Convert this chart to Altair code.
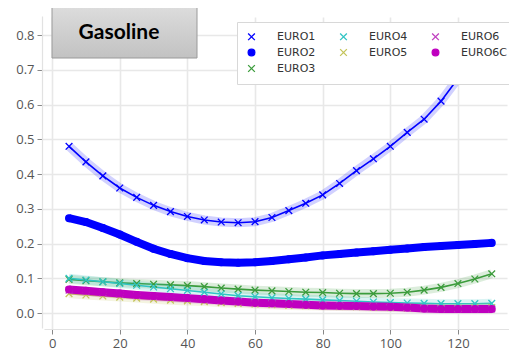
import altair as alt
import pandas as pd

speed = [5, 10, 15, 20, 25, 30, 35, 40, 45, 50, 55, 60, 65, 70, 75, 80, 85, 90, 95, 100, 105, 110, 115, 120, 125, 130]

euro1 = [0.480, 0.435, 0.395, 0.360, 0.333, 0.310, 0.292, 0.278, 0.268, 0.262, 0.260, 0.263, 0.275, 0.295, 0.316,
         0.340, 0.373, 0.410, 0.444, 0.480, 0.520, 0.558, 0.610, 0.675, 0.740, 0.810]
euro2 = [0.273, 0.262, 0.245, 0.226, 0.205, 0.185, 0.170, 0.158, 0.150, 0.146, 0.145, 0.146, 0.150, 0.155, 0.160,
         0.166, 0.170, 0.174, 0.178, 0.182, 0.186, 0.190, 0.193, 0.196, 0.199, 0.202]
euro3 = [0.097, 0.093, 0.090, 0.087, 0.085, 0.083, 0.081, 0.079, 0.076, 0.072, 0.069, 0.066, 0.064, 0.062, 0.060,
         0.059, 0.057, 0.056, 0.056, 0.057, 0.060, 0.066, 0.074, 0.085, 0.098, 0.113]
euro4 = [0.100, 0.095, 0.090, 0.085, 0.080, 0.075, 0.070, 0.065, 0.060, 0.055, 0.050, 0.047, 0.044, 0.042, 0.040,
         0.038, 0.036, 0.034, 0.032, 0.030, 0.029, 0.028, 0.027, 0.027, 0.027, 0.028]
euro5 = [0.056, 0.052, 0.049, 0.046, 0.043, 0.040, 0.037, 0.035, 0.033, 0.030, 0.028, 0.026, 0.024, 0.022, 0.021,
         0.020, 0.019, 0.018, 0.017, 0.016, 0.015, 0.014, 0.014, 0.014, 0.015, 0.016]
euro6 = [0.066, 0.062, 0.058, 0.054, 0.050, 0.047, 0.044, 0.041, 0.038, 0.035, 0.032, 0.029, 0.027, 0.025, 0.023,
         0.021, 0.020, 0.019, 0.018, 0.017, 0.015, 0.013, 0.012, 0.012, 0.012, 0.012]
euro6c = [0.068, 0.064, 0.060, 0.056, 0.052, 0.049, 0.046, 0.043, 0.040, 0.036, 0.033, 0.030, 0.028, 0.026, 0.024,
          0.022, 0.021, 0.020, 0.019, 0.018, 0.016, 0.013, 0.012, 0.012, 0.012, 0.012]

series_names = ["EURO1", "EURO2", "EURO3", "EURO4", "EURO5", "EURO6", "EURO6C"]
series_values = [euro1, euro2, euro3, euro4, euro5, euro6, euro6c]
series_colors = ["#0000ff", "#0000ff", "#3c9c3c", "#30c4c4", "#c4c45a", "#c040c0", "#bf00bf"]
series_marker = ["x", "o", "x", "x", "x", "x", "o"]

x_ticks = [0, 20, 40, 60, 80, 100, 120]
y_ticks = [0.0, 0.1, 0.2, 0.3, 0.4, 0.5, 0.6, 0.7, 0.8]
title_text = "Gasoline"

# legend is filled row by row: this order gives the reference's column layout.
# invisible zero-width prefixes keep that order when the legend sorts its entries.
legend_order = ["EURO1", "EURO4", "EURO6", "EURO2", "EURO5", "EURO6C", "EURO3"]
ZW = "\u200b"
keys = {n: ZW * legend_order.index(n) + n for n in series_names}

rows = []
for name, vals in zip(series_names, series_values):
    for s, v in zip(speed, vals):
        rows.append({"speed": s, "value": v, "series": name, "key": keys[name]})
df = pd.DataFrame(rows)

XPATH = "M-1,-1L1,1M-1,1L1,-1"
idx = {n: i for i, n in enumerate(series_names)}
key_domain = [keys[n] for n in legend_order]
col_range = [series_colors[idx[n]] for n in legend_order]
shape_range = [XPATH if series_marker[idx[n]] == "x" else "circle" for n in legend_order]
fill_range = ["transparent" if series_marker[idx[n]] == "x" else series_colors[idx[n]] for n in legend_order]

xs = alt.Scale(domain=[-2.4, 135.1], nice=False, zero=False)
ys = alt.Scale(domain=[-0.043, 0.855], nice=False, zero=False)

X = alt.X("speed:Q", scale=xs, axis=alt.Axis(values=x_ticks, title=None, format="d"))
Y = alt.Y("value:Q", scale=ys, axis=alt.Axis(values=y_ticks, title=None, format=".1f"))

base = alt.Chart(df)
layers = []
for name, color, mk in zip(series_names, series_colors, series_marker):
    b = base.transform_filter(alt.datum.series == name)
    if mk == "x":
        layers.append(b.mark_line(strokeWidth=9, opacity=0.18, color=color).encode(x=X, y=Y))
        layers.append(b.mark_line(strokeWidth=1.6, color=color).encode(x=X, y=Y))
    else:
        layers.append(b.mark_line(strokeWidth=8, color=color).encode(x=X, y=Y))

leg = alt.Legend(title=None)
points = base.mark_point(filled=True, size=45, strokeWidth=1.3, opacity=1).encode(
    x=X,
    y=Y,
    shape=alt.Shape("key:N", scale=alt.Scale(domain=key_domain, range=shape_range), legend=leg, sort=key_domain),
    stroke=alt.Stroke("key:N", scale=alt.Scale(domain=key_domain, range=col_range), legend=leg, sort=key_domain),
    fill=alt.Fill("key:N", scale=alt.Scale(domain=key_domain, range=fill_range), legend=leg, sort=key_domain),
)
layers.append(points)

title_df = pd.DataFrame({"label": [title_text]})
box = alt.Chart(title_df).mark_rect(
    fill=alt.Gradient(
        gradient="linear",
        stops=[alt.GradientStop(color="#dcdcdc", offset=0), alt.GradientStop(color="#c2c2c2", offset=1)],
        x1=0, x2=0, y1=0, y2=1,
    ),
    stroke="#9a9a9a",
    strokeWidth=1,
).encode(x=alt.value(8), x2=alt.value(153), y=alt.value(-9), y2=alt.value(42))
txt = alt.Chart(title_df).mark_text(
    font="Lato", fontWeight="bold", fontSize=21, color="#000000", align="center", baseline="alphabetic"
).encode(x=alt.value(75), y=alt.value(23), text="label:N")

chart = alt.layer(*layers, box, txt).properties(
    width=465, height=312,
    autosize=alt.AutoSizeParams(type="none"),
    padding={"left": 36, "top": 8, "right": 0, "bottom": 26},
).configure_view(stroke=None).configure_axis(
    grid=True,
    gridColor="#e8e8e8",
    gridWidth=1.6,
    domainColor="#e2e2e2",
    domainWidth=1.2,
    tickColor="#888888",
    tickSize=5,
    labelFont="Open Sans",
    labelFontSize=13,
    labelColor="#555555",
    labelPadding=3,
).configure_axisY(offset=2).configure_axisX(offset=1).configure_legend(
    orient="none",
    legendX=193,
    legendY=6,
    columns=3,
    direction="horizontal",
    fillColor="white",
    strokeColor="#d8d8d8",
    padding=9,
    rowPadding=3,
    columnPadding=21,
    labelFont="DejaVu Sans",
    labelFontSize=11,
    labelColor="#333333",
    symbolSize=45,
    symbolStrokeWidth=1.3,
    labelOffset=20,
)

chart.save("out.html", embed_options={"renderer": "svg", "actions": False})
